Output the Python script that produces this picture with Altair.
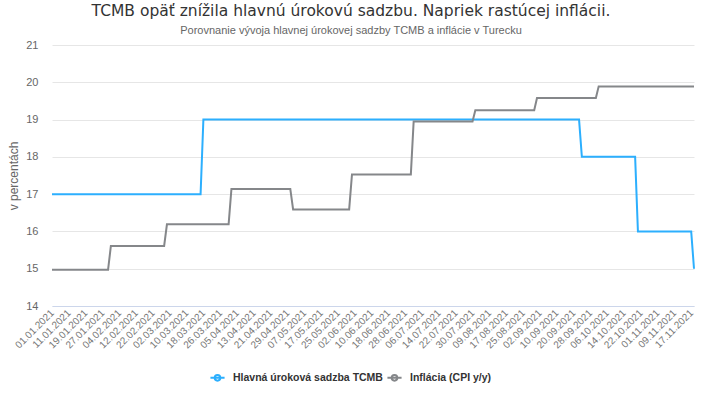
import altair as alt
import pandas as pd

# --- data -------------------------------------------------------------
series_names = ["Hlavná úroková sadzba TCMB", "Inflácia (CPI y/y)"]
series_colors = ["#2caffe", "#85878a"]

rate_change_dates = ["01.01.2021", "18.03.2021", "23.09.2021", "21.10.2021", "18.11.2021"]
rate_values = [17, 19, 18, 16, 15]

cpi_change_dates = ["01.01.2021", "01.02.2021", "01.03.2021", "01.04.2021", "03.05.2021",
                    "01.06.2021", "01.07.2021", "02.08.2021", "01.09.2021", "01.10.2021"]
cpi_values = [14.97, 15.61, 16.19, 17.14, 16.59, 17.53, 18.95, 19.25, 19.58, 19.89]

tick_labels = ["01.01.2021", "11.01.2021", "19.01.2021", "27.01.2021", "04.02.2021",
               "12.02.2021", "22.02.2021", "02.03.2021", "10.03.2021", "18.03.2021",
               "26.03.2021", "05.04.2021", "13.04.2021", "21.04.2021", "29.04.2021",
               "07.05.2021", "17.05.2021", "25.05.2021", "02.06.2021", "10.06.2021",
               "18.06.2021", "28.06.2021", "06.07.2021", "14.07.2021", "22.07.2021",
               "30.07.2021", "09.08.2021", "17.08.2021", "25.08.2021", "02.09.2021",
               "10.09.2021", "20.09.2021", "28.09.2021", "06.10.2021", "14.10.2021",
               "22.10.2021", "01.11.2021", "09.11.2021", "17.11.2021"]

# daily (weekday) categories, values held until the next change
days = [d.strftime("%d.%m.%Y") for d in pd.bdate_range("2021-01-01", "2021-11-18")]


def step_series(change_dates, values):
    lookup = dict(zip(change_dates, values))
    out, cur = [], None
    for d in days:
        if d in lookup:
            cur = lookup[d]
        out.append(cur)
    return out


rows = []
for d, v in zip(days, step_series(rate_change_dates, rate_values)):
    rows.append({"den": d, "hodnota": v, "rad": series_names[0]})
for d, v in zip(days, step_series(cpi_change_dates, cpi_values)):
    rows.append({"den": d, "hodnota": v, "rad": series_names[1]})
df = pd.DataFrame(rows)

FONT = "Liberation Sans"
TITLE_FONT = "DejaVu Sans"

legend_symbol = "M -1 0 L 1 0 M -0.4 0 A 0.4 0.4 0 1 1 0.4 0 A 0.4 0.4 0 1 1 -0.4 0 Z"

chart = (
    alt.Chart(df)
    .mark_line(strokeWidth=2)
    .encode(
        x=alt.X(
            "den:O",
            sort=days,
            scale=alt.Scale(type="point", padding=0),
            axis=alt.Axis(
                values=tick_labels,
                title=None,
                labelAngle=315,
                labelAlign="right",
                labelBaseline="middle",
                labelPadding=5,
                labelFont=FONT,
                labelFontSize=10,
                labelColor="#777777",
                domainColor="#ccd6eb",
                ticks=False,
                grid=False,
                labelOverlap=False,
            ),
        ),
        y=alt.Y(
            "hodnota:Q",
            scale=alt.Scale(domain=[14, 21], nice=False, zero=False),
            axis=alt.Axis(
                values=[14, 15, 16, 17, 18, 19, 20, 21],
                title="v percentách",
                titleFont=FONT,
                titleFontSize=12,
                titleFontWeight="normal",
                titleColor="#666666",
                titlePadding=5,
                labelFont=FONT,
                labelFontSize=11,
                labelColor="#666666",
                labelPadding=14,
                domain=False,
                ticks=False,
                gridColor="#e6e6e6",
                gridWidth=1,
            ),
        ),
        color=alt.Color(
            "rad:N",
            scale=alt.Scale(domain=series_names, range=series_colors),
            legend=alt.Legend(
                title=None,
                orient="none",
                direction="horizontal",
                legendX=157,
                legendY=324,
                symbolType=legend_symbol,
                symbolSize=200,
                symbolStrokeWidth=2,
                labelFont=FONT,
                labelFontSize=10.5,
                labelFontWeight="bold",
                labelColor="#333333",
                labelLimit=400,
                columnPadding=0,
                labelOffset=7,
            ),
        ),
    )
    .properties(
        width=642,
        height=261,
        title=alt.TitleParams(
            text="TCMB opäť znížila hlavnú úrokovú sadzbu. Napriek rastúcej inflácii.",
            subtitle="Porovnanie vývoja hlavnej úrokovej sadzby TCMB a inflácie v Turecku",
            anchor="middle",
            dx=-22,
            font=TITLE_FONT,
            fontSize=15.5,
            fontWeight="normal",
            color="#333333",
            subtitleFont=FONT,
            subtitleFontSize=11,
            subtitleColor="#666666",
            subtitlePadding=6,
            offset=3,
        ),
        autosize=alt.AutoSizeParams(type="none"),
        padding={"left": 52, "top": 45, "right": 10, "bottom": 94},
    )
    .configure_view(stroke=None)
)

chart.save("out.html", embed_options={"renderer": "svg", "actions": False})
